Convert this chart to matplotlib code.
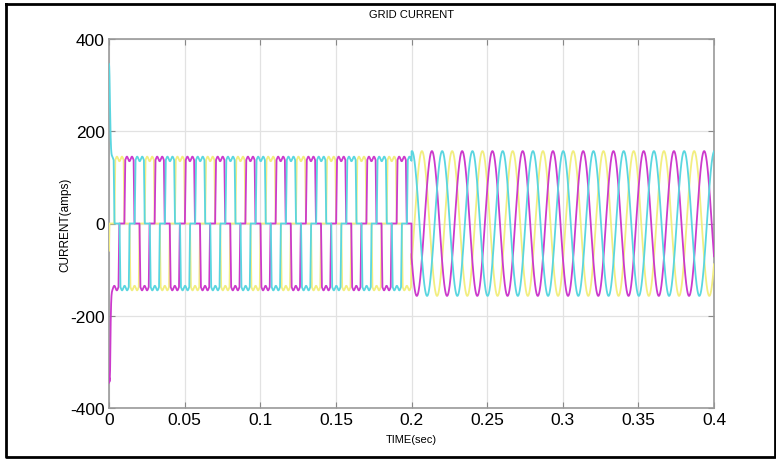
## Grid current of the three phases, 0 - 0.4 s

import numpy as np
import matplotlib.pyplot as plt
from matplotlib.lines import Line2D

## DATA

phase_names = ['yellow', 'magenta', 'cyan']
phase_colors = ['#f2ee80', '#cc3acc', '#5ad6e0']
peak_times = [0.0069, 0.0135, 0.0003]      # time of first positive peak, s
grid_freq = 50.0                           # Hz
amp_before = 140.0                         # flat top of the 120 deg blocks, 0 - 0.2 s
amp_after = 157.0                          # sine peak, 0.2 - 0.4 s
switch_time = 0.2
start_spike = [0.0, -345.0, 210.0]         # start-up transient added at t = 0

x_ticks = [0, 0.05, 0.1, 0.15, 0.2, 0.25, 0.3, 0.35, 0.4]
x_labels = ['0', '0.05', '0.1', '0.15', '0.2', '0.25', '0.3', '0.35', '0.4']
y_ticks = [-400, -200, 0, 200, 400]

title = 'GRID CURRENT'
xlabel = 'TIME(sec)'
ylabel = 'CURRENT(amps)'

## BUILD THE WAVES

t = np.linspace(0, 0.4, 16001)


def phase_current(tp, spike):
    th = 2 * np.pi * grid_freq * (t - tp)
    c = np.cos(th)
    # 120 degree conduction block with steep edges and a small ripple on the top
    block = np.clip((c - 0.5) * 7, 0, 1) - np.clip((-c - 0.5) * 7, 0, 1)
    block = block * (amp_before - 5 * np.cos(6 * th))
    sine = amp_after * c
    i = np.where(t < switch_time, block, sine)
    i = i + spike * np.exp(-(t / 0.0009) ** 2)
    return i


## PLOT

plt.rcParams['font.family'] = ['Liberation Sans', 'DejaVu Sans']
plt.rcParams['axes.unicode_minus'] = False

fig = plt.figure(figsize=(7.76, 4.6), dpi=100)
ax = fig.add_axes([109 / 776, 1 - 409 / 460, (714 - 109) / 776, (409 - 40) / 460])

for name, col, tp, sp in zip(phase_names, phase_colors, peak_times, start_spike):
    ax.plot(t, phase_current(tp, sp), color=col, lw=1.3, label=name, zorder=3)

ax.set_xlim(0, 0.4)
ax.set_ylim(-400, 400)
ax.set_xticks(x_ticks)
ax.set_xticklabels(x_labels)
ax.set_yticks(y_ticks)
ax.grid(True, color='#e2e2e2', lw=0.9)
ax.set_axisbelow(True)
ax.tick_params(labelsize=12.5, length=4, color='#888888', direction='in',
               top=True, right=True, pad=3)
for s in ax.spines.values():
    s.set_color('#999999')
    s.set_linewidth(1.2)

ax.set_title(title, fontsize=8, pad=16, fontstretch='condensed')
ax.set_xlabel(xlabel, fontsize=8, labelpad=5)
ax.set_ylabel(ylabel, fontsize=8.5, labelpad=-1)

# outer frame round the figure
fig.add_artist(Line2D([6 / 776, 775 / 776, 775 / 776, 6 / 776, 6 / 776],
                      [1 - 5 / 460, 1 - 5 / 460, 1 - 458 / 460, 1 - 458 / 460, 1 - 5 / 460],
                      color='black', lw=2, transform=fig.transFigure))

plt.savefig('out.png', dpi=100)
plt.close()
